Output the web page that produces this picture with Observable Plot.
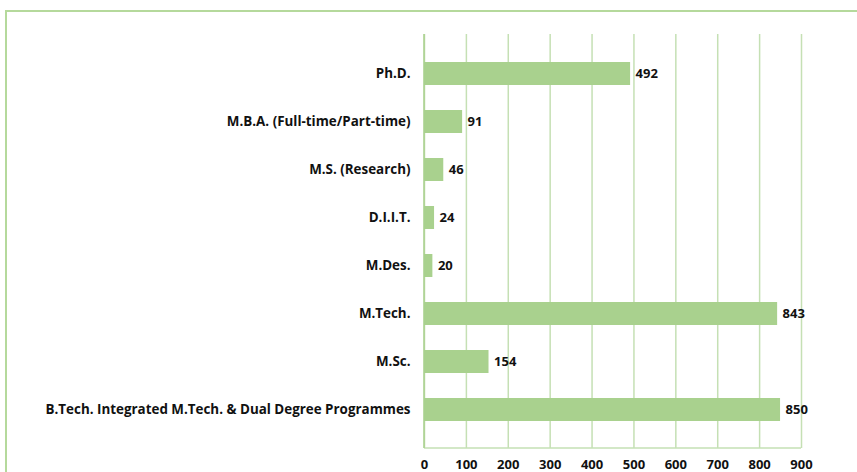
<!DOCTYPE html>
<html><head><meta charset="utf-8">
<script src="https://cdn.jsdelivr.net/npm/d3@7"></script>
<script src="https://cdn.jsdelivr.net/npm/@observablehq/plot@0.6"></script>
<style>
html,body{margin:0;padding:0;background:#fff;overflow:hidden;}
#wrap{position:relative;width:857px;height:472px;}
#border{position:absolute;left:5px;top:10px;width:900px;height:520px;border:2px solid #b5d99c;box-sizing:border-box;}
#chart{position:absolute;left:0;top:0;}
svg{font-family:"Open Sans",sans-serif;}
</style>
</head><body>
<div id="wrap"><div id="border"></div><div id="chart"></div></div>
<script>
const programmes = ["Ph.D.","M.B.A. (Full-time/Part-time)","M.S. (Research)","D.I.I.T.","M.Des.","M.Tech.","M.Sc.","B.Tech. Integrated M.Tech. & Dual Degree Programmes"];
const students = [492,91,46,24,20,843,154,850];
const xTicks = [0,100,200,300,400,500,600,700,800,900];
const data = programmes.map((p,i)=>({programme:p, value:students[i]}));

const green = "#a9d18e";
const grid = "#c5e0b4";
const font = "'Open Sans', sans-serif";

const chart = Plot.plot({
  width: 857, height: 472,
  marginLeft: 424, marginRight: 56, marginTop: 34, marginBottom: 24,
  style: {fontFamily: font, fontSize: "13px", fontWeight: "bold", color: "#111", background: "transparent"},
  x: {domain: [0,900], ticks: xTicks, label: null},
  y: {domain: programmes, padding: 0.53, label: null},
  marks: [
    Plot.ruleX(xTicks, {x: d=>d, stroke: grid, strokeWidth: 1.5}),
    Plot.barX(data, {y: "programme", x: "value", fill: green, style: {filter: "drop-shadow(2px 3px 1.5px rgba(0,0,0,0.6))"}}),
    Plot.text(data, {y: "programme", x: "value", text: d=>String(d.value), dx: 5, textAnchor: "start", fontWeight: "bold", fontSize: 13, fill: "#111"}),
    Plot.axisX({ticks: xTicks, tickSize: 0, tickPadding: 11, fontWeight: "bold", fontSize: 13, label: null}),
    Plot.axisY({tickSize: 0, tickPadding: 14, fontWeight: "bold", fontSize: 13.4, label: null})
  ]
});
const sx = chart.scale("x");
const svg = d3.select(chart);
svg.append("line").attr("x1", sx.apply(0)).attr("x2", sx.apply(900)).attr("y1", 448).attr("y2", 448).attr("stroke", grid).attr("stroke-width", 1.5);
svg.append("line").attr("x1", sx.apply(0)).attr("x2", sx.apply(0)).attr("y1", 34).attr("y2", 448).attr("stroke", green).attr("stroke-width", 1.5);
document.getElementById("chart").append(chart);
</script>
</body></html>
